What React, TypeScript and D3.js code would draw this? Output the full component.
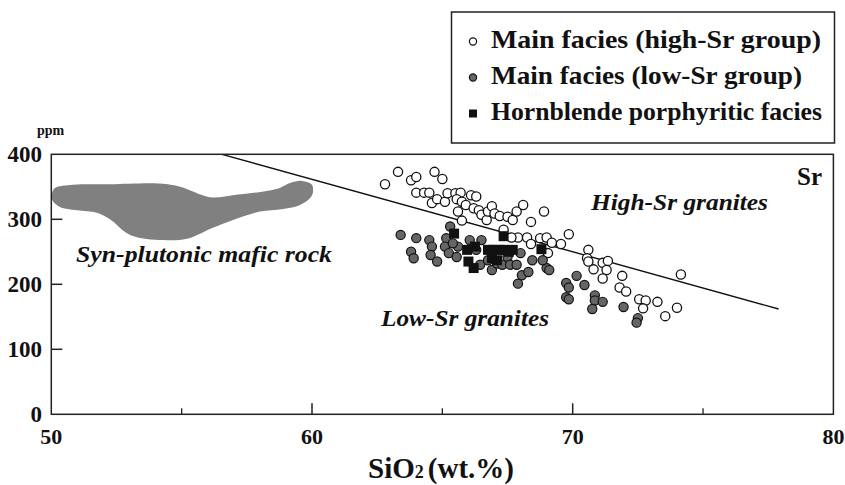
import React from "react";
import * as d3 from "d3";

const xTicks = [50, 60, 70, 80];
const xMinorTicks = [55, 65, 75];
const yTicks = [0, 100, 200, 300, 400];

// Main facies (high-Sr group): [SiO2, Sr]
const highSr: [number, number][] = [
  [62.8, 354], [63.3, 373], [63.8, 360], [64.0, 365], [64.7, 373], [65.0, 362],
  [64.0, 341], [64.3, 341], [64.5, 341], [64.6, 325], [64.8, 331], [65.1, 327],
  [65.2, 340], [65.5, 340], [65.7, 341], [65.55, 331], [65.75, 327], [65.9, 322],
  [66.1, 337], [66.3, 335], [65.6, 312], [65.75, 298], [66.2, 317], [66.4, 314],
  [66.5, 307], [66.7, 299], [66.75, 312], [66.9, 320], [67.0, 309], [67.2, 305],
  [67.5, 304], [67.7, 299], [67.85, 312], [68.1, 322], [68.4, 296], [68.9, 312],
  [67.35, 284], [67.9, 272], [68.25, 272], [68.4, 262], [68.75, 271], [69.0, 272],
  [69.2, 264], [69.05, 248], [67.65, 272], [69.55, 262], [69.85, 277], [70.6, 253],
  [70.55, 240], [70.6, 235], [70.8, 223], [71.15, 233], [71.35, 236], [71.3, 222],
  [71.15, 209], [71.9, 213], [71.8, 195], [72.05, 189], [72.55, 177], [72.8, 175],
  [72.7, 163], [73.25, 173], [73.55, 151], [74.0, 164], [74.15, 215],
];

// Main facies (low-Sr group)
const lowSr: [number, number][] = [
  [63.4, 276], [64.0, 271], [63.8, 250], [63.9, 240], [64.5, 268], [64.6, 258],
  [64.55, 245], [64.8, 235], [65.15, 271], [65.1, 258], [65.3, 289], [65.25, 248],
  [65.55, 242], [65.6, 258], [65.4, 263], [66.05, 268], [66.5, 268], [66.3, 253],
  [66.45, 230], [66.75, 237], [66.9, 222], [67.1, 232], [67.3, 230], [67.5, 242],
  [67.6, 230], [67.85, 230], [68.0, 248], [68.05, 214], [67.9, 201], [68.3, 219],
  [68.45, 237], [69.0, 225], [66.9, 253], [68.85, 237], [69.1, 222], [70.15, 213],
  [69.75, 202], [69.85, 195], [70.45, 199], [69.75, 180], [69.85, 177], [70.85, 183],
  [70.85, 175], [71.15, 173], [70.75, 162], [71.95, 165], [72.5, 148], [72.45, 141],
];

// Hornblende porphyritic facies
const hornblende: [number, number][] = [
  [65.45, 278], [65.95, 253], [66.25, 258], [66.0, 235], [66.2, 225], [66.75, 253],
  [66.95, 253], [67.15, 253], [67.35, 253], [67.55, 250], [67.7, 253], [67.1, 237],
  [67.35, 274], [68.8, 254], [66.9, 240],
];

// Syn-plutonic mafic rock field outline
const maficField: [number, number][] = [
  [50.03, 340], [50.14, 348], [50.83, 353], [52.25, 354], [54.17, 355], [54.94, 350],
  [56.09, 334], [56.97, 337], [58.66, 347], [59.16, 356], [59.62, 359], [60.0, 353],
  [60.0, 337], [59.54, 322], [58.89, 316], [58.0, 312], [56.97, 299], [56.2, 287],
  [55.2, 270], [54.29, 268], [53.02, 276], [52.25, 300], [51.75, 310], [50.99, 314],
  [50.33, 319], [50.03, 330],
];

// Discriminant line between high-Sr and low-Sr granites
const divider: [number, number][] = [[56.55, 400], [77.9, 162]];

const legendItems = [
  { label: "Main facies (high-Sr group)", kind: "open" },
  { label: "Main facies (low-Sr group)", kind: "gray" },
  { label: "Hornblende porphyritic facies", kind: "square" },
];

const FONT = "Liberation Serif, DejaVu Serif, serif";
const INK = "#111";

export default function App() {
  const x = d3.scaleLinear().domain([50, 80]).range([51.3, 833.4]);
  const y = d3.scaleLinear().domain([0, 400]).range([414.3, 154.3]);
  const fieldPath = d3
    .line<[number, number]>()
    .x((d) => x(d[0]))
    .y((d) => y(d[1]))
    .curve(d3.curveCatmullRomClosed.alpha(0.5))(maficField) || "";
  const linePath = d3
    .line<[number, number]>()
    .x((d) => x(d[0]))
    .y((d) => y(d[1]))(divider) || "";

  const r = 4.6;
  const sq = 10;
  const tStyle = { fontFamily: FONT, fontWeight: 700 } as React.CSSProperties;
  const iStyle = { fontFamily: FONT, fontWeight: 700, fontStyle: "italic" } as React.CSSProperties;
  const legendWidths = [330, 311, 331];

  return (
    <svg
      width={845}
      height={485}
      style={{ position: "absolute", left: 0, top: 0, background: "#fff", fontFamily: FONT }}
    >
      {/* legend */}
      <rect x={451.5} y={12} width={383} height={131} fill="#fff" stroke="#222" strokeWidth={1.5} />
      {legendItems.map((it, i) => {
        const cy = 41.5 + i * 36;
        return (
          <g key={it.label}>
            {it.kind === "open" && <circle cx={473} cy={cy} r={3.6} fill="#fff" stroke={INK} strokeWidth={1.2} />}
            {it.kind === "gray" && <circle cx={473} cy={cy} r={3.6} fill="#666" stroke={INK} strokeWidth={1.2} />}
            {it.kind === "square" && <rect x={469} y={cy - 4} width={8} height={8} fill={INK} />}
            <text
              x={491}
              y={cy + 6}
              fontSize={25}
              style={tStyle}
              fill={INK}
              textLength={legendWidths[i]}
              lengthAdjust="spacingAndGlyphs"
            >
              {it.label}
            </text>
          </g>
        );
      })}

      {/* mafic field */}
      <path d={fieldPath} fill="#808080" />

      {/* divider line */}
      <path d={linePath} fill="none" stroke={INK} strokeWidth={1.4} />

      {/* frame */}
      <rect
        x={x(50)}
        y={y(400)}
        width={x(80) - x(50)}
        height={y(0) - y(400)}
        fill="none"
        stroke="#222"
        strokeWidth={1.5}
      />

      {/* y ticks */}
      {yTicks.map((t) => (
        <g key={"y" + t}>
          {t > 0 && t < 400 && (
            <line x1={x(50)} x2={x(50) + 11} y1={y(t)} y2={y(t)} stroke="#222" strokeWidth={1.5} />
          )}
          <text x={42} y={y(t)} dy="0.35em" textAnchor="end" fontSize={23} style={tStyle} fill={INK}>
            {t}
          </text>
        </g>
      ))}
      <text x={37} y={135} fontSize={14} style={tStyle} fill={INK}>
        ppm
      </text>

      {/* x ticks */}
      {xTicks.map((t) => (
        <g key={"x" + t}>
          {t > 50 && t < 80 && (
            <line x1={x(t)} x2={x(t)} y1={y(0)} y2={y(0) - 11} stroke="#222" strokeWidth={1.5} />
          )}
          <text x={x(t)} y={444} textAnchor="middle" fontSize={22} style={tStyle} fill={INK}>
            {t}
          </text>
        </g>
      ))}
      {xMinorTicks.map((t) => (
        <line key={"m" + t} x1={x(t)} x2={x(t)} y1={y(0)} y2={y(0) - 6} stroke="#222" strokeWidth={1.3} />
      ))}

      {/* x axis title */}
      <text x={441} y={478} textAnchor="middle" fontSize={29} style={tStyle} fill={INK}>
        SiO<tspan fontSize={18}>2</tspan>
        <tspan dx={4}>(wt.%)</tspan>
      </text>

      {/* annotations */}
      <text x={822} y={185} textAnchor="end" fontSize={25} style={tStyle} fill={INK}>
        Sr
      </text>
      <text x={591} y={210} fontSize={24} style={iStyle} fill={INK} textLength={177} lengthAdjust="spacingAndGlyphs">
        High-Sr granites
      </text>
      <text x={76} y={262} fontSize={24} style={iStyle} fill={INK} textLength={256} lengthAdjust="spacingAndGlyphs">
        Syn-plutonic mafic rock
      </text>
      <text x={381} y={326} fontSize={24} style={iStyle} fill={INK} textLength={168} lengthAdjust="spacingAndGlyphs">
        Low-Sr granites
      </text>

      {/* data */}
      {highSr.map((d, i) => (
        <circle key={"h" + i} cx={x(d[0])} cy={y(d[1])} r={r} fill="#fff" stroke={INK} strokeWidth={1.3} />
      ))}
      {lowSr.map((d, i) => (
        <circle key={"l" + i} cx={x(d[0])} cy={y(d[1])} r={r} fill="#666" stroke={INK} strokeWidth={1.2} />
      ))}
      {hornblende.map((d, i) => (
        <rect key={"b" + i} x={x(d[0]) - sq / 2} y={y(d[1]) - sq / 2} width={sq} height={sq} fill={INK} />
      ))}
    </svg>
  );
}
